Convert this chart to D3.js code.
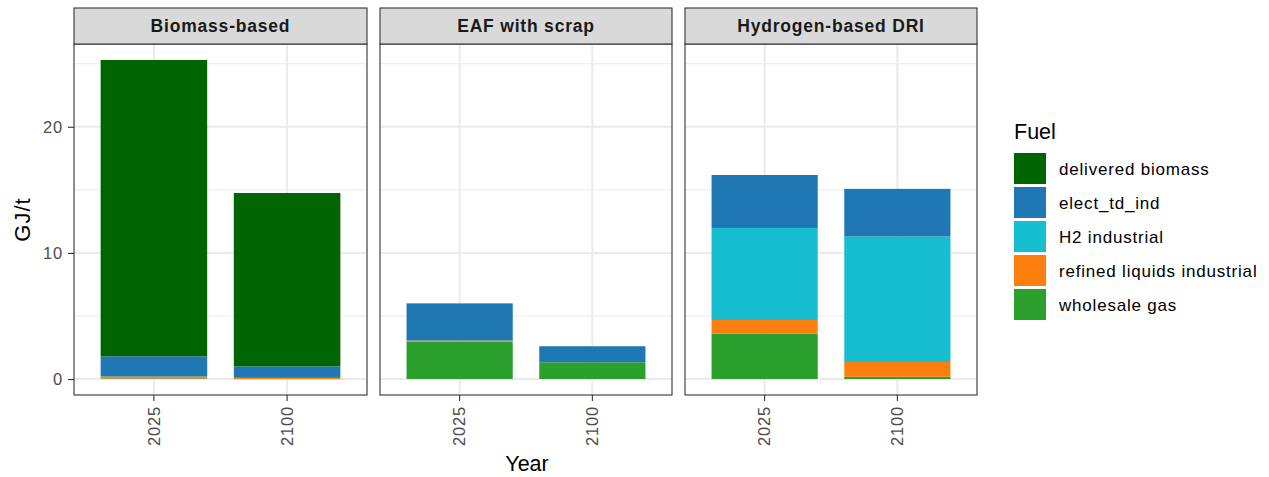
<!DOCTYPE html>
<html>
<head>
<meta charset="utf-8">
<script src="https://cdn.jsdelivr.net/npm/d3@7"></script>
<style>
  body { margin: 0; background: #fff; }
  svg { font-family: "Liberation Sans", Arial, sans-serif; }
</style>
</head>
<body>
<svg id="chart" width="1269" height="477"></svg>
<script>
// Technologies (facets), years and fuels
const technologies = ["Biomass-based", "EAF with scrap", "Hydrogen-based DRI"];
const years = ["2025", "2100"];
const fuels = ["delivered biomass", "elect_td_ind", "H2 industrial", "refined liquids industrial", "wholesale gas"];
const fuelColors = ["#006400", "#1f77b4", "#17becf", "#ff7f0e", "#2ca02c"];

// Energy intensity (GJ/t) per fuel, indexed [technology][year]
const deliveredBiomass = [[23.5, 13.75], [0, 0], [0, 0]];
const electTdInd       = [[1.6, 0.9], [2.95, 1.27], [4.2, 3.78]];
const h2Industrial     = [[0, 0], [0, 0], [7.3, 9.95]];
const refinedLiquids   = [[0.15, 0.1], [0.07, 0], [1.08, 1.17]];
const wholesaleGas     = [[0.05, 0.0], [2.98, 1.33], [3.6, 0.18]];

const yTicks = [0, 10, 20];
const yMinorTicks = [5, 15, 25];

const seriesByFuel = [deliveredBiomass, electTdInd, h2Industrial, refinedLiquids, wholesaleGas];

const svg = d3.select("#chart");

// Layout
const panelTop = 44, panelBottom = 395;
const stripTop = 8;
const panels = [[74, 367], [380, 672], [685, 977]];
const LS = "0.8px";

// Stack order: wholesale gas at the bottom, delivered biomass on top
const stackOrder = [4, 3, 2, 1, 0];

const maxTotal = d3.max(technologies.flatMap((t, ti) => years.map((y, yi) =>
  d3.sum(seriesByFuel, s => s[ti][yi]))));
const pad = maxTotal * 0.05;
const y = d3.scaleLinear().domain([-pad, maxTotal + pad]).range([panelBottom, panelTop]);

const color = d3.scaleOrdinal().domain(fuels).range(fuelColors);

technologies.forEach((tech, ti) => {
  const [x0, x1] = panels[ti];
  const g = svg.append("g");

  // discrete x scale with 0.6-unit expansion on each side
  const xs = d3.scaleLinear().domain([0.4, 2.6]).range([x0, x1]);
  const xc = yr => xs(years.indexOf(yr) + 1);
  const barW = xs(1.8) - xs(1);

  g.append("rect").attr("x", x0).attr("y", panelTop).attr("width", x1 - x0).attr("height", panelBottom - panelTop).attr("fill", "#fff");

  // gridlines
  yMinorTicks.forEach(v => {
    g.append("line").attr("x1", x0).attr("x2", x1).attr("y1", y(v)).attr("y2", y(v))
      .attr("stroke", "#ebebeb").attr("stroke-width", 1);
  });
  yTicks.forEach(v => {
    g.append("line").attr("x1", x0).attr("x2", x1).attr("y1", y(v)).attr("y2", y(v))
      .attr("stroke", "#ebebeb").attr("stroke-width", 2);
  });
  years.forEach(yr => {
    g.append("line").attr("x1", xc(yr)).attr("x2", xc(yr)).attr("y1", panelTop).attr("y2", panelBottom)
      .attr("stroke", "#ebebeb").attr("stroke-width", 2);
  });

  // stacked bars
  years.forEach((yr, yi) => {
    let base = 0;
    stackOrder.forEach(fi => {
      const v = seriesByFuel[fi][ti][yi];
      if (v <= 0) return;
      g.append("rect")
        .attr("x", xc(yr) - barW / 2)
        .attr("width", barW)
        .attr("y", y(base + v))
        .attr("height", y(base) - y(base + v))
        .attr("fill", color(fuels[fi]));
      base += v;
    });
  });

  // panel border
  g.append("rect").attr("x", x0).attr("y", panelTop).attr("width", x1 - x0).attr("height", panelBottom - panelTop)
    .attr("fill", "none").attr("stroke", "#333").attr("stroke-width", 1.1);

  // strip
  g.append("rect").attr("x", x0).attr("y", stripTop).attr("width", x1 - x0).attr("height", panelTop - stripTop)
    .attr("fill", "#d9d9d9").attr("stroke", "#333").attr("stroke-width", 1.1);
  g.append("text").attr("x", (x0 + x1) / 2).attr("y", (stripTop + panelTop) / 2 + 6.3)
    .attr("text-anchor", "middle").attr("font-size", 17.5).attr("font-weight", "bold").attr("fill", "#1a1a1a")
    .attr("letter-spacing", LS)
    .text(tech);

  // x axis
  const xAxisScale = d3.scaleBand().domain(years).range([xs(0.5), xs(2.5)]);
  const xAxis = g.append("g").attr("transform", `translate(0,${panelBottom})`)
    .call(d3.axisBottom(xAxisScale).tickSize(6).tickPadding(4));
  xAxis.select(".domain").remove();
  xAxis.selectAll(".tick line").attr("stroke", "#333").attr("stroke-width", 1.1);
  xAxis.selectAll(".tick text")
    .attr("font-size", 16.5).attr("fill", "#4d4d4d").attr("letter-spacing", LS)
    .attr("transform", "rotate(-90)")
    .attr("text-anchor", "end").attr("dy", "0.35em").attr("x", -11).attr("y", 0);

  // y axis on the first panel
  if (ti === 0) {
    const yAxis = g.append("g").attr("transform", `translate(${x0},0)`)
      .call(d3.axisLeft(y).tickValues(yTicks).tickSize(6).tickPadding(4));
    yAxis.select(".domain").remove();
    yAxis.selectAll(".tick line").attr("stroke", "#333").attr("stroke-width", 1.1);
    yAxis.selectAll(".tick text").attr("font-size", 16.5).attr("fill", "#4d4d4d")
      .attr("letter-spacing", LS).attr("x", -11);
  }
});

// axis titles
svg.append("text").attr("x", 527).attr("y", 471).attr("text-anchor", "middle")
  .attr("font-size", 21.5).attr("fill", "#000").text("Year");
svg.append("text").attr("transform", `translate(29.5,${(panelTop + panelBottom) / 2}) rotate(-90)`)
  .attr("text-anchor", "middle").attr("font-size", 22).attr("letter-spacing", "1px")
  .attr("fill", "#000").text("GJ/t");

// legend
const legend = svg.append("g").attr("transform", "translate(1013,0)");
legend.append("text").attr("x", 1).attr("y", 139).attr("font-size", 21.5).attr("fill", "#000").text("Fuel");
fuels.forEach((f, i) => {
  const ky = 153 + i * 34;
  legend.append("rect").attr("x", 1).attr("y", ky).attr("width", 32).attr("height", 31)
    .attr("fill", color(f));
  legend.append("text").attr("x", 46).attr("y", ky + 22).attr("font-size", 17).attr("fill", "#000")
    .attr("letter-spacing", "0.8px").text(f);
});
</script>
</body>
</html>
